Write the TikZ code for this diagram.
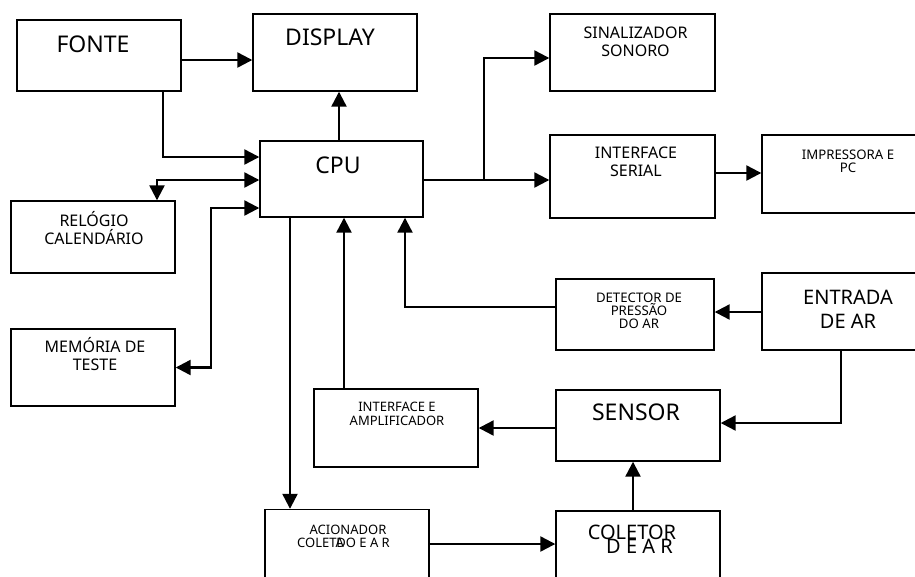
\documentclass[tikz,border=0pt]{standalone}
\usepackage{fontspec}
\setmainfont{Noto Sans}
\usetikzlibrary{arrows.meta}
\tikzset{
    bloco/.style={draw, rectangle, line width=1.4pt, inner sep=0pt},
    rot/.style={align=center, inner sep=0pt},
    seta/.style={line width=2.3pt, -{Triangle[length=15pt,width=15pt]}},
    setadupla/.style={line width=2.3pt, {Triangle[length=15pt,width=15pt]}-{Triangle[length=15pt,width=15pt]}},
    grande/.style={font=\fontsize{23}{27}\selectfont},
    medio/.style={font=\fontsize{20}{24}\selectfont},
    normal/.style={font=\fontsize{16}{18}\selectfont},
    pequeno/.style={font=\fontsize{13.2}{13}\selectfont},
    minimo/.style={font=\fontsize{13}{14.3}\selectfont}
}
\begin{document}
\begin{tikzpicture}[x=1pt,y=-1pt]
                    \clip (0,0) rectangle (915,576);
                    \fill[white] (0,0) rectangle (915,576);
                    % caixas
                    \node[bloco, minimum width=164, minimum height=71] (fonte)    at (99,55.5)   {};
                    \node[bloco, minimum width=164, minimum height=77] (display)  at (335,52.5)  {};
                    \node[bloco, minimum width=163, minimum height=76] (cpu)      at (341.5,179) {};
                    \node[bloco, minimum width=165, minimum height=77] (sinal)    at (632.5,52.5) {};
                    \node[bloco, minimum width=165, minimum height=83] (serial)   at (632.5,176.5) {};
                    \node[bloco, minimum width=164, minimum height=78] (impr)     at (844,174)   {};
                    \node[bloco, minimum width=164, minimum height=72] (relogio)  at (93,237)    {};
                    \node[bloco, minimum width=164, minimum height=77] (memoria)  at (93,367.5)  {};
                    \node[bloco, minimum width=158, minimum height=71] (detector) at (635,314.5) {};
                    \node[bloco, minimum width=164, minimum height=77] (entrada)  at (844,311.5) {};
                    \node[bloco, minimum width=164, minimum height=71] (sensor)   at (638,425.5) {};
                    \node[bloco, minimum width=164, minimum height=78] (interf)   at (396,428)   {};
                    \node[bloco, minimum width=164, minimum height=77] (acion)    at (347,548)   {};
                    \node[bloco, minimum width=164, minimum height=77] (coletor)  at (638,549.5) {};
                    % textos
                    \node[rot, grande, anchor=base] (fonteT)   at (93,52)    {FONTE};
                    \node[rot, grande, anchor=base] (displayT) at (330,45)   {DISPLAY};
                    \node[rot, grande, anchor=base] (cpuT)     at (338,173)  {CPU};
                    \node[rot, grande, anchor=base] (sensorT)  at (636,420)  {SENSOR};
                    \node[rot, normal]  (sinalT)    at (635.5,41.5) {SINALIZADOR\\SONORO};
                    \node[rot, normal]  (serialT)   at (636,161.5)  {INTERFACE\\SERIAL};
                    \node[rot, pequeno] (imprT)     at (848,161.5)  {IMPRESSORA E\\PC};
                    \node[rot, normal]  (relogioT)  at (94,228.5)   {RELÓGIO\\CALENDÁRIO};
                    \node[rot, normal]  (memoriaT)  at (95,354)     {MEMÓRIA DE\\TESTE};
                    \node[rot, pequeno] (detectorT) at (639,311)    {DETECTOR DE\\PRESSÃO\\DO AR};
                    \node[rot, medio]   (entradaT)  at (848,309.5)  {ENTRADA\\DE AR};
                    \node[rot, minimo]  (interfT)   at (397,414)    {INTERFACE E\\AMPLIFICADOR};
                    \node[rot, minimo, anchor=base] (acionT)  at (348,534) {ACIONADOR};
                    \node[rot, minimo, anchor=base west] (acionT2) at (297,547) {COLETA};
                    \node[rot, minimo, anchor=base east] (acionT3) at (390,547) {DO E A R};
                    \node[rot, medio, anchor=base] (coletorT)  at (632,539)   {COLETOR};
                    \node[rot, medio, anchor=base] (coletorT2) at (639.5,553) {D E A R};
                    % ligacoes
                    \coordinate (mj) at (211,300);
                    \coordinate (br) at (484,180);
                    \draw[seta] ([yshift=-4.5pt]fonte.east) coordinate (a1) -- (a1 -| display.west);
                    \draw[seta] ([xshift=64pt]fonte.south) |- ([yshift=22pt]cpu.west);
                    \draw[seta] ([xshift=-2.5pt]cpu.north) coordinate (a2) -- (a2 |- display.south);
                    \draw[setadupla] ([yshift=-1pt]cpu.west) -| ([xshift=64pt]relogio.north);
                    \draw[setadupla] ([yshift=-29pt]cpu.west) -| (mj) |- (memoria.east);
                    \draw[seta] ([xshift=-51.5pt]cpu.south) coordinate (a3) -- (a3 |- acion.north);
                    \draw[seta] ([xshift=-52pt]interf.north) coordinate (a4) -- (a4 |- cpu.south);
                    \draw[seta] ([yshift=7.5pt]detector.west) -| ([xshift=63.5pt]cpu.south);
                    \draw[seta] ([yshift=-1pt]cpu.east) coordinate (a5) -- (a5 -| serial.west);
                    \draw[seta] (br) |- ([yshift=-5.5pt]sinal.west);
                    \draw[seta] ([yshift=3.5pt]serial.east) coordinate (a6) -- (a6 -| impr.west);
                    \draw[seta] ([yshift=-0.5pt]entrada.west) coordinate (a7) -- (a7 -| detector.east);
                    \draw[seta] ([xshift=-3pt]entrada.south) |- ([yshift=2.5pt]sensor.east);
                    \draw[seta] ([yshift=-2.5pt]sensor.west) coordinate (a8) -- (a8 -| interf.east);
                    \draw[seta] ([xshift=-5pt]coletor.north) coordinate (a9) -- (a9 |- sensor.south);
                    \draw[seta] ([yshift=4pt]acion.east) coordinate (a10) -- (a10 -| coletor.west);
                \end{tikzpicture}
\end{document}
